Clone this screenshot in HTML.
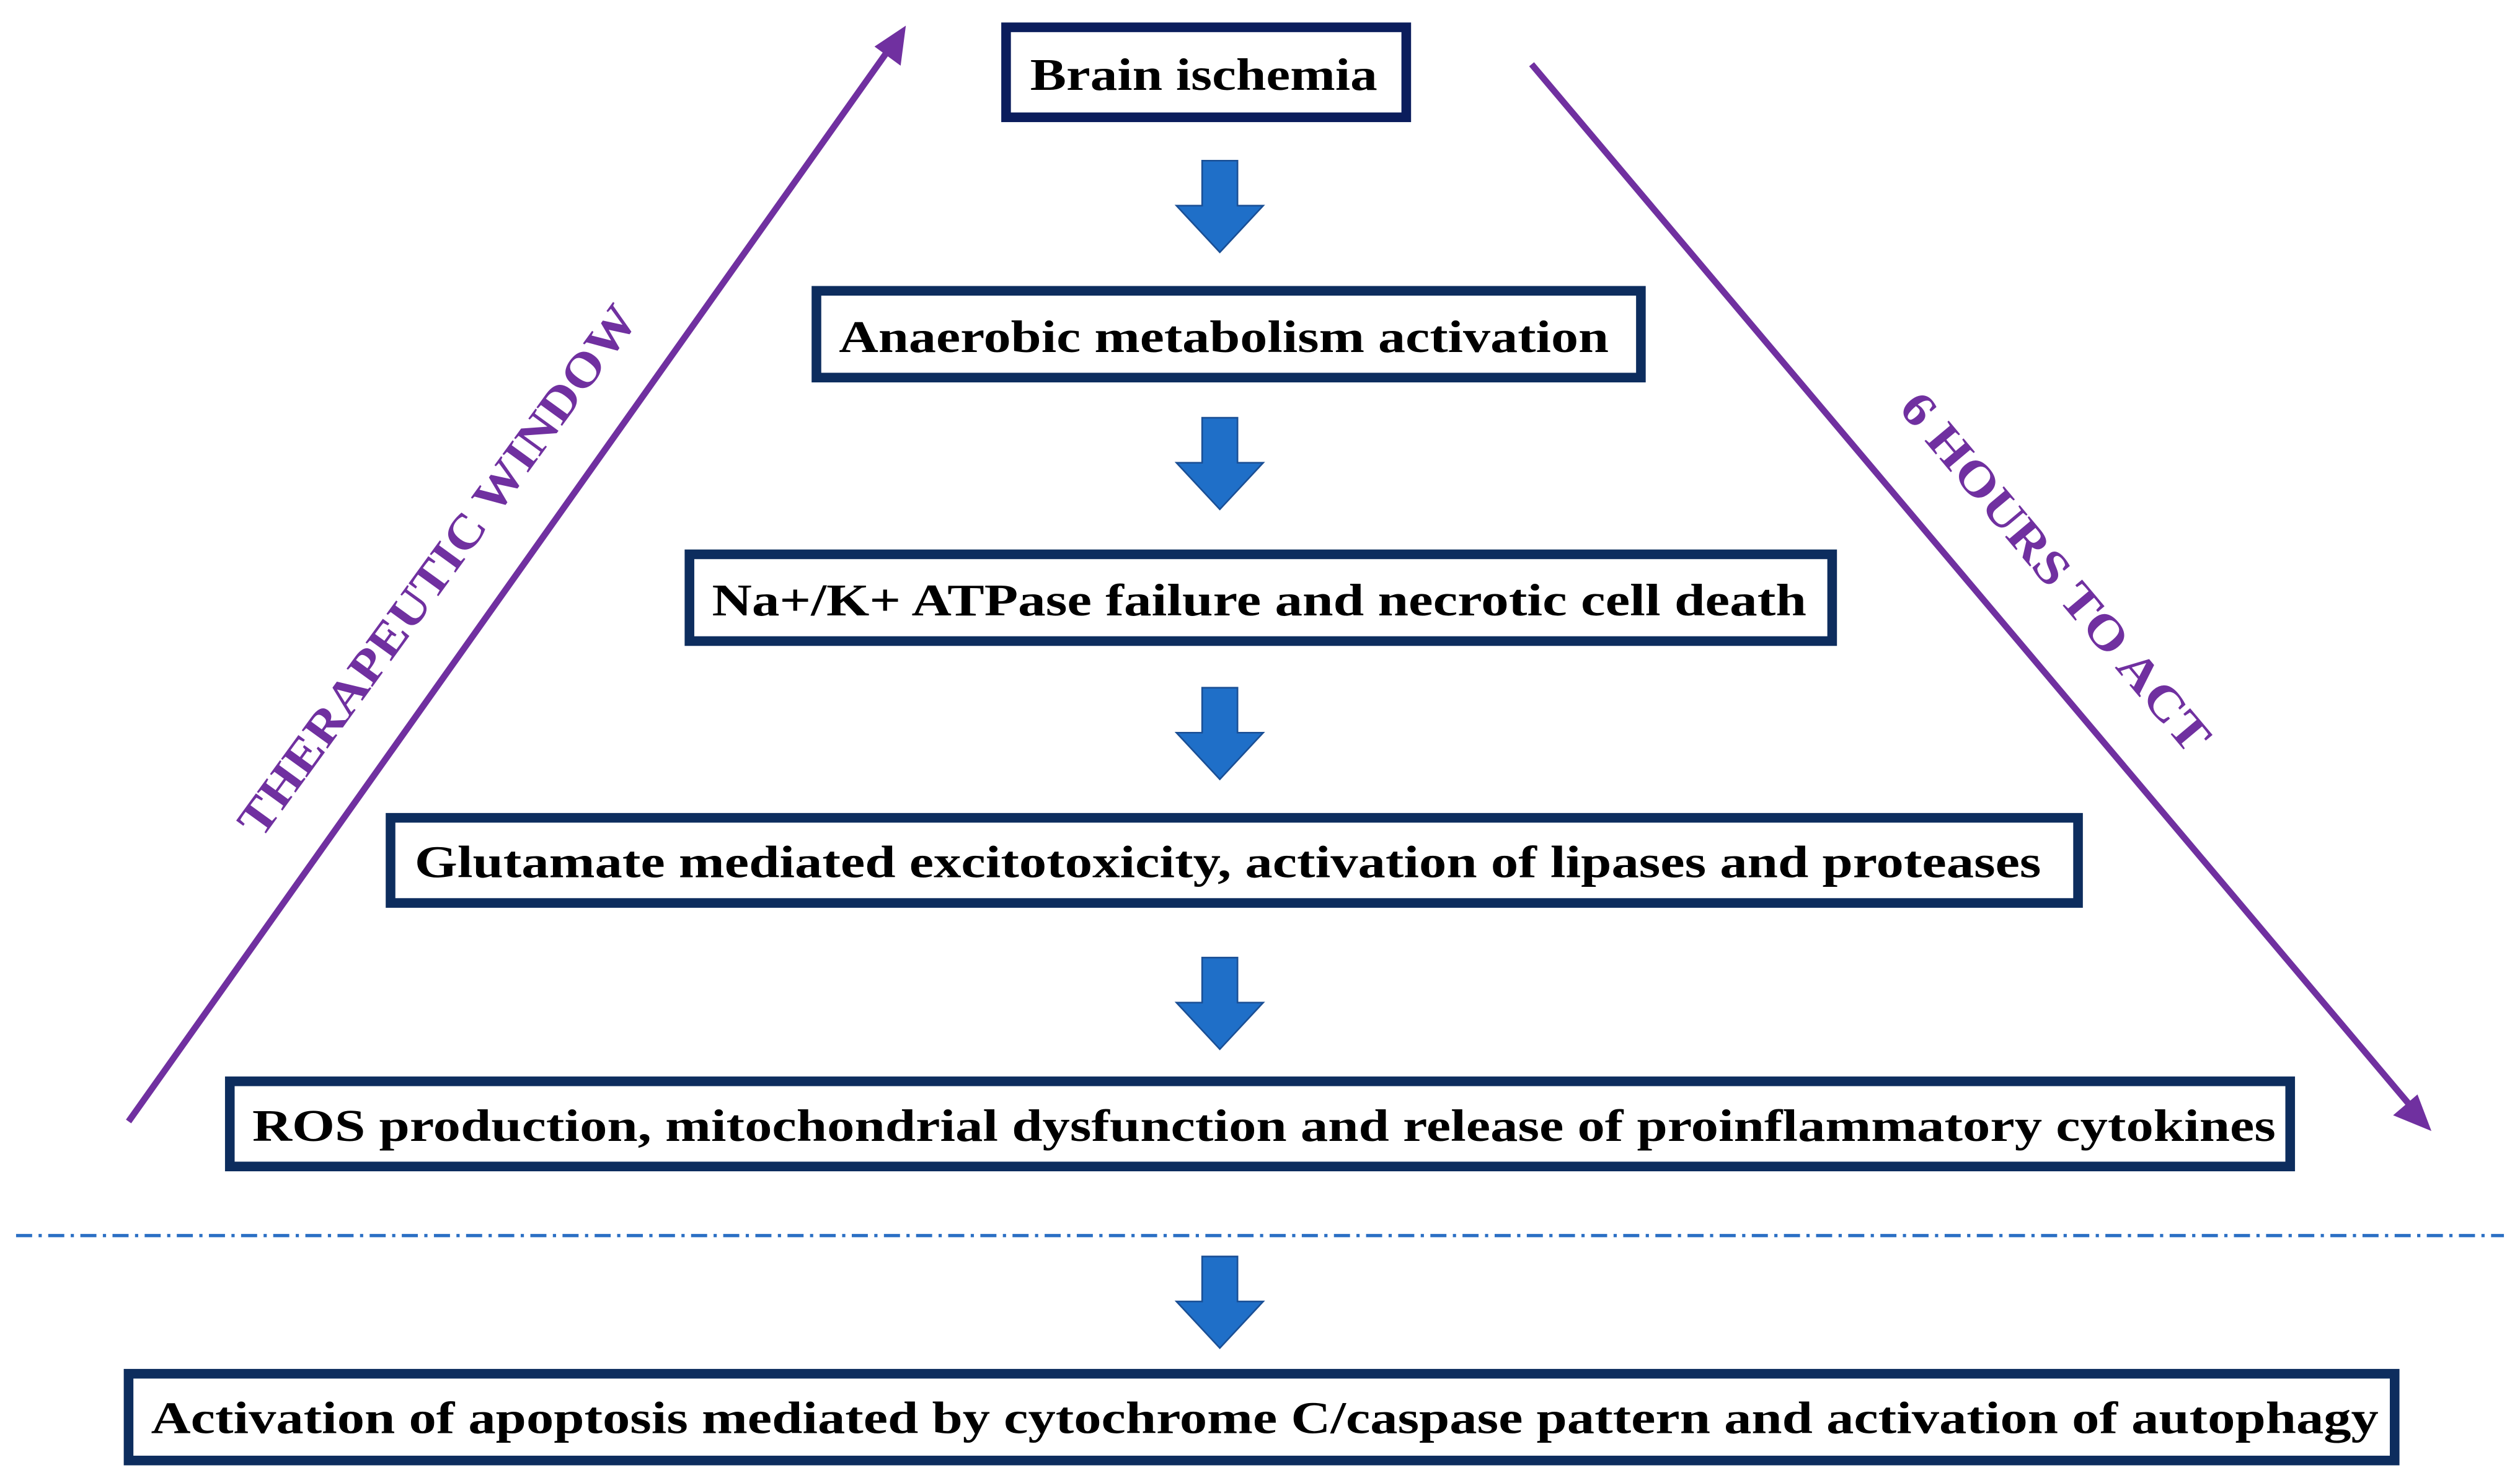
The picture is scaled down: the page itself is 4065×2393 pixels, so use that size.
<!DOCTYPE html>
<html><head><meta charset="utf-8"><style>
html,body{margin:0;padding:0;background:#fff;}
svg{display:block;}
text{font-family:"Liberation Serif","Times New Roman",Times,serif;font-weight:bold;}
</style></head><body>
<svg width="4065" height="2393" viewBox="0 0 1568 923" preserveAspectRatio="none" xmlns="http://www.w3.org/2000/svg">
<defs>
<g id="arr"><path d="M-11,0 H11 V28 H27 L0,57 L-27,28 H-11 Z" fill="#1f6fc8" stroke="#1a4f95" stroke-width="1"/></g>
</defs>
<g fill="#fff" stroke="#0d2d5e" stroke-width="6">
<rect x="626" y="17" width="249" height="56" stroke="#0b1d5c"/>
<rect x="508" y="181" width="513" height="54"/>
<rect x="429" y="345" width="711" height="54"/>
<rect x="243" y="509" width="1050" height="53"/>
<rect x="143" y="673" width="1282" height="53"/>
<rect x="80" y="855" width="1410" height="54"/>
</g>
<g font-size="28" fill="#000">
<text x="641" y="56" textLength="216" lengthAdjust="spacingAndGlyphs">Brain ischemia</text>
<text x="522" y="219" textLength="479" lengthAdjust="spacingAndGlyphs">Anaerobic metabolism activation</text>
<text x="443" y="383" textLength="681" lengthAdjust="spacingAndGlyphs">Na+/K+ ATPase failure and necrotic cell death</text>
<text x="258" y="546" textLength="1012" lengthAdjust="spacingAndGlyphs">Glutamate mediated excitotoxicity, activation of lipases and proteases</text>
<text x="157" y="710" textLength="1259" lengthAdjust="spacingAndGlyphs">ROS production, mitochondrial dysfunction and release of proinflammatory cytokines</text>
<text x="94" y="892" textLength="1386" lengthAdjust="spacingAndGlyphs">Activation of apoptosis mediated by cytochrome C/caspase pattern and activation of autophagy</text>
</g>
<use href="#arr" x="759" y="100"/>
<use href="#arr" x="759" y="260"/>
<use href="#arr" x="759" y="428"/>
<use href="#arr" x="759" y="596"/>
<use href="#arr" x="759" y="782"/>
<line x1="10" y1="769" x2="1558" y2="769" stroke="#2a6fc4" stroke-width="2" stroke-dasharray="10,4,2,4"/>
<g stroke="#7030a0" stroke-width="4" fill="#7030a0">
<line x1="80" y1="698" x2="555" y2="28"/>
<path d="M563,17 L560,40 L545,29 Z" stroke-width="1"/>
<line x1="953" y1="40" x2="1503" y2="692"/>
<path d="M1512,703 L1490,694 L1504,682 Z" stroke-width="1"/>
</g>
<g font-size="30" fill="#7030a0">
<text transform="translate(272,355) rotate(-54)" text-anchor="middle" y="10" textLength="400" lengthAdjust="spacingAndGlyphs">THERAPEUTIC WINDOW</text>
<text transform="translate(1279,356) rotate(50)" text-anchor="middle" y="10" textLength="282" lengthAdjust="spacingAndGlyphs">6 HOURS TO ACT</text>
</g>
</svg>
</body></html>
